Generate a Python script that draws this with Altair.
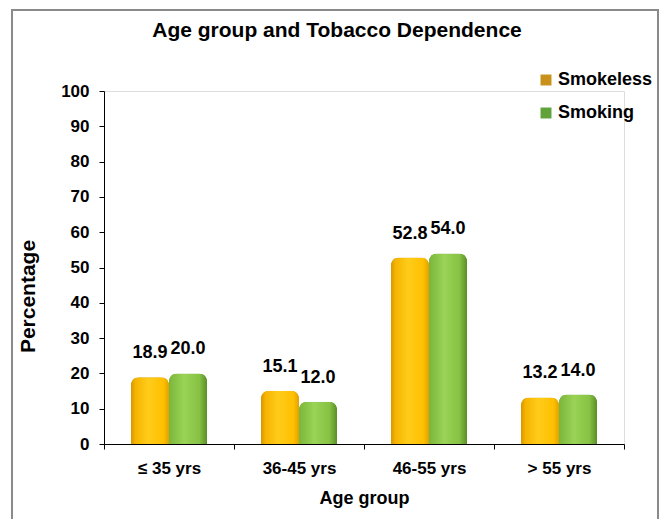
import altair as alt
import pandas as pd

# Tobacco dependence (%) by age group
age_groups = ["≤ 35 yrs", "36-45 yrs", "46-55 yrs", "> 55 yrs"]
smokeless = [18.9, 15.1, 52.8, 13.2]
smoking = [20.0, 12.0, 54.0, 14.0]
series = ["Smokeless", "Smoking"]

rows = []
for g, a, b in zip(age_groups, smokeless, smoking):
    rows.append({"age": g, "series": "Smokeless", "value": a})
    rows.append({"age": g, "series": "Smoking", "value": b})
df = pd.DataFrame(rows)

FONT = "Liberation Sans"
W, H = 520, 353

x_enc = alt.X(
    "age:N",
    sort=age_groups,
    title="Age group",
    scale=alt.Scale(paddingInner=0, paddingOuter=0),
    axis=alt.Axis(
        labelAngle=0, tickBand="extent", tickSize=5, labelPadding=11,
        titlePadding=13, domainColor="black", tickColor="black",
        labelFontSize=17, titleFontSize=18, labelFont=FONT, titleFont=FONT,
        labelFontWeight="bold", titleFontWeight="bold",
        labelColor="black", titleColor="black",
    ),
)
xoff = alt.XOffset("series:N", sort=series,
                   scale=alt.Scale(paddingInner=0, paddingOuter=0.71))
y_enc = alt.Y(
    "value:Q",
    title="Percentage",
    scale=alt.Scale(domain=[0, 100]),
    axis=alt.Axis(
        values=list(range(0, 101, 10)), grid=False, tickSize=5,
        labelPadding=10, domainColor="black", tickColor="black",
        labelFontSize=17, titleFontSize=21, labelFont=FONT, titleFont=FONT,
        labelFontWeight="bold", titleFontWeight="bold",
        labelColor="black", titleColor="black",
        titleX=-66, titleY=205,
    ),
)

base = alt.Chart(df)

flat = base.mark_bar(cornerRadiusTopLeft=8, cornerRadiusTopRight=8).encode(
    x=x_enc, xOffset=xoff, y=y_enc,
    color=alt.Color(
        "series:N", sort=series, title=None,
        scale=alt.Scale(domain=series, range=["#C8921A", "#5FA33A"]),
        legend=alt.Legend(
            orient="none", legendX=433, legendY=-20, symbolType="square",
            symbolSize=120, symbolStrokeWidth=0, labelFontSize=18,
            labelFont=FONT, labelFontWeight="bold", labelColor="black",
            rowPadding=15, labelOffset=3,
        ),
    ),
)

orange_grad = alt.Gradient(
    gradient="linear", x1=0, x2=1, y1=0, y2=0,
    stops=[
        alt.GradientStop(offset=0, color="#D99600"),
        alt.GradientStop(offset=0.12, color="#F5B400"),
        alt.GradientStop(offset=0.45, color="#FFCC1A"),
        alt.GradientStop(offset=0.85, color="#FFC000"),
        alt.GradientStop(offset=1, color="#E0A200"),
    ],
)
green_grad = alt.Gradient(
    gradient="linear", x1=0, x2=1, y1=0, y2=0,
    stops=[
        alt.GradientStop(offset=0, color="#7BB63A"),
        alt.GradientStop(offset=0.4, color="#9AD356"),
        alt.GradientStop(offset=0.8, color="#86C243"),
        alt.GradientStop(offset=1, color="#5B8F27"),
    ],
)

def shaded(name, grad):
    return base.transform_filter(alt.datum.series == name).mark_bar(
        cornerRadiusTopLeft=8, cornerRadiusTopRight=8, color=grad
    ).encode(x=x_enc, xOffset=xoff, y=y_enc)

labels = base.mark_text(
    baseline="bottom", dy=-15, fontSize=18, font=FONT, fontWeight="bold",
    color="black",
).encode(
    x=x_enc, xOffset=xoff, y=y_enc,
    text=alt.Text("value:Q", format=".1f"),
)

# outer frame around the whole figure
frame = alt.Chart(pd.DataFrame({"f": [0]})).mark_rect(
    fill=None, stroke="#8a8a8a", strokeWidth=2
).encode(
    x=alt.value(-92), x2=alt.value(554), y=alt.value(-81), y2=alt.value(440)
)

chart = alt.layer(
    frame, flat, shaded("Smokeless", orange_grad), shaded("Smoking", green_grad), labels
).properties(
    width=W, height=H,
    title=alt.Title(
        "Age group and Tobacco Dependence", fontSize=21, font=FONT,
        fontWeight="bold", color="black", anchor="middle", offset=0,
        frame="group", baseline="alphabetic", dy=49, dx=-27,
    ),
    autosize=alt.AutoSizeParams(type="none"),
    padding={"left": 104, "top": 91, "right": 37, "bottom": 75},
).configure_view(stroke=None).configure(background="white")

chart.save("out.html", embed_options={"renderer": "svg", "actions": False})
